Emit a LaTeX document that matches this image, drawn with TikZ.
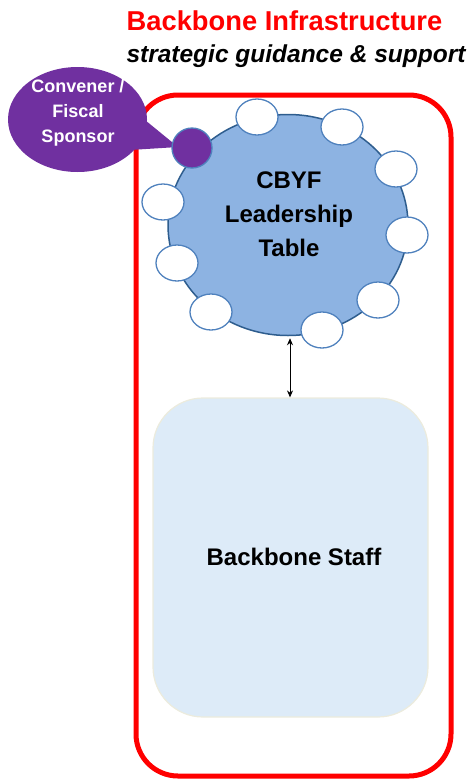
\documentclass[tikz,border=0pt]{standalone}
\usepackage{fontspec}
\setmainfont{Liberation Sans}
\usetikzlibrary{shapes.geometric,arrows.meta,calc}
\definecolor{tblue}{HTML}{8DB3E2}
\definecolor{tedge}{HTML}{2E5D8E}
\definecolor{sedge}{HTML}{4F81BD}
\definecolor{purp}{HTML}{7030A0}
\definecolor{staff}{HTML}{DDEBF8}
\definecolor{staffedge}{HTML}{ECEBDD}
\tikzset{
  seat/.style={ellipse, draw=sedge, line width=1.3pt, fill=white, minimum width=42pt, minimum height=36pt, inner sep=0pt},
  lbl/.style={font=\bfseries, align=center, inner sep=0pt}
}
\begin{document}
\begin{tikzpicture}[x=1pt,y=-1pt]
\useasboundingbox (0,0) rectangle (472,782);
% outer red frame
\draw[red, line width=5pt, rounded corners=42pt] (136,95) rectangle (451,776);
% titles
\node[lbl, text=red, font=\bfseries\fontsize{27.3}{30}\selectfont] (title) at (284.5,21) {Backbone Infrastructure};
\node[lbl, font=\bfseries\itshape\fontsize{24.5}{28}\selectfont] (sub) at (296,56) {strategic guidance \& support};
% callout
\node[ellipse, fill=purp, minimum width=139pt, minimum height=105pt, inner sep=0pt] (conv) at (77.5,119.5) {};
\fill[purp] (conv.center) ++(62,-4) -- (178,147) -- (130,150) -- cycle;
\node[lbl, text=white, font=\bfseries\fontsize{18}{25}\selectfont] (convtxt) at (78,113) {Convener /\\Fiscal\\Sponsor};
% leadership table
\node[ellipse, draw=tedge, line width=1.5pt, fill=tblue, minimum width=240pt, minimum height=221pt, inner sep=0pt] (table) at (288,225) {};
\node[lbl, font=\bfseries\fontsize{24}{34}\selectfont] (tabletxt) at (289,214) {CBYF\\Leadership\\Table};
\node[seat] (s1) at (257,117) {};
\node[seat] (s2) at (342,127) {};
\node[seat] (s3) at (396,169) {};
\node[seat] (s4) at (407,235) {};
\node[seat] (s5) at (378,300) {};
\node[seat] (s6) at (322,330) {};
\node[seat] (s7) at (211,312) {};
\node[seat] (s8) at (177,263) {};
\node[seat] (s9) at (163,202) {};
\node[circle, draw=sedge, line width=1.3pt, fill=purp, minimum size=40pt, inner sep=0pt] (fiscal) at (192,148) {};
% staff
\node[draw=staffedge, line width=1.2pt, fill=staff, rounded corners=50pt, minimum width=275pt, minimum height=319pt, inner sep=0pt] (staffbox) at (290.5,557.5) {};
\node[lbl, font=\bfseries\fontsize{24}{28}\selectfont] (stafftxt) at (294,557) {Backbone Staff};
% arrow
\draw[{Stealth[length=7pt,width=6pt]}-{Stealth[length=7pt,width=6pt]}, line width=0.8pt] (table.south -| 290,0) ++(0,2) -- (staffbox.north -| 290,0);
\end{tikzpicture}
\end{document}
